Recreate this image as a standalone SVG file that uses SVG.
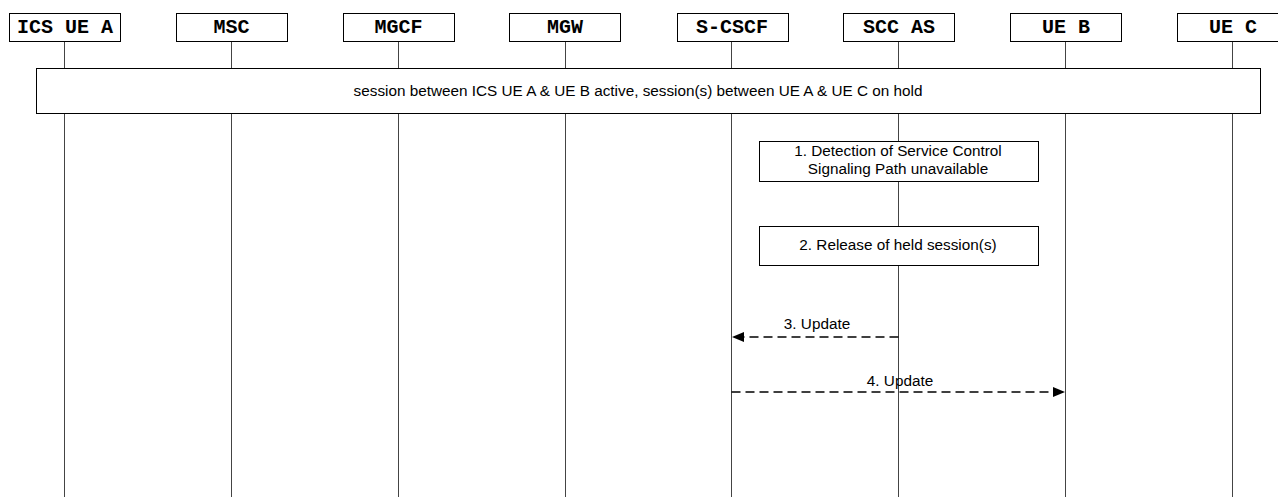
<svg xmlns="http://www.w3.org/2000/svg" width="1278" height="497" viewBox="0 0 1278 497">
<style>
.ent{fill:#fff;stroke:#000;stroke-width:1}
.ent text{font-family:"Liberation Mono","Courier New",monospace;font-weight:bold;font-size:20px;text-anchor:middle;fill:#000;stroke:none}
.life{stroke:#444;stroke-width:1}
.box{fill:#fff;stroke:#000;stroke-width:1}
.lbl{font-family:"Liberation Sans",Arial,sans-serif;font-size:15.3px;fill:#000;text-anchor:middle}
.msg{stroke:#000;stroke-width:1.4;stroke-dasharray:9,5;fill:none}
</style>
<defs>
<marker id="ah" viewBox="0 0 12 10" refX="12" refY="5" markerWidth="12" markerHeight="10" markerUnits="userSpaceOnUse" orient="auto">
<path d="M0,0 L12,5 L0,10 z" fill="#000"/>
</marker>
</defs>
<g id="lifelines">
<line class="life" x1="64.5" y1="41" x2="64.5" y2="497"/>
<line class="life" x1="231.5" y1="41" x2="231.5" y2="497"/>
<line class="life" x1="398.5" y1="41" x2="398.5" y2="497"/>
<line class="life" x1="565.5" y1="41" x2="565.5" y2="497"/>
<line class="life" x1="731.5" y1="41" x2="731.5" y2="497"/>
<line class="life" x1="898.5" y1="41" x2="898.5" y2="497"/>
<line class="life" x1="1065.5" y1="41" x2="1065.5" y2="497"/>
<line class="life" x1="1232.5" y1="41" x2="1232.5" y2="497"/>
</g>
<g id="n-icsuea" class="ent"><rect x="9.5" y="13.5" width="111" height="28"/><text x="65" y="33">ICS UE A</text></g>
<g id="n-msc" class="ent"><rect x="176.5" y="13.5" width="111" height="28"/><text x="231.5" y="33">MSC</text></g>
<g id="n-mgcf" class="ent"><rect x="343.5" y="13.5" width="111" height="28"/><text x="398.5" y="33">MGCF</text></g>
<g id="n-mgw" class="ent"><rect x="509.5" y="13.5" width="111" height="28"/><text x="565" y="33">MGW</text></g>
<g id="n-scscf" class="ent"><rect x="677.5" y="13.5" width="111" height="28"/><text x="732" y="33">S-CSCF</text></g>
<g id="n-sccas" class="ent"><rect x="843.5" y="13.5" width="111" height="28"/><text x="899" y="33">SCC AS</text></g>
<g id="n-ueb" class="ent"><rect x="1010.5" y="13.5" width="111" height="28"/><text x="1066" y="33">UE B</text></g>
<g id="n-uec" class="ent"><rect x="1177.5" y="13.5" width="111" height="28"/><text x="1233" y="33">UE C</text></g>
<g id="n-session">
<rect class="box" x="36.5" y="68.5" width="1224" height="45"/>
<text class="lbl" x="638" y="96">session between ICS UE A &amp; UE B active, session(s) between UE A &amp; UE C on hold</text>
</g>
<g id="n-step1">
<rect class="box" x="759.5" y="141.5" width="279" height="40"/>
<text class="lbl" x="898" y="156">1. Detection of Service Control</text>
<text class="lbl" x="898" y="174">Signaling Path unavailable</text>
</g>
<g id="n-step2">
<rect class="box" x="759.5" y="226.5" width="279" height="39"/>
<text class="lbl" x="898" y="250">2. Release of held session(s)</text>
</g>
<g id="connectors">
<line class="msg" x1="898.5" y1="337" x2="732" y2="337" marker-end="url(#ah)"/>
<text class="lbl" x="817" y="329">3. Update</text>
<line class="msg" x1="731.5" y1="392" x2="1065" y2="392" marker-end="url(#ah)"/>
<text class="lbl" x="900" y="386">4. Update</text>
</g>
</svg>
